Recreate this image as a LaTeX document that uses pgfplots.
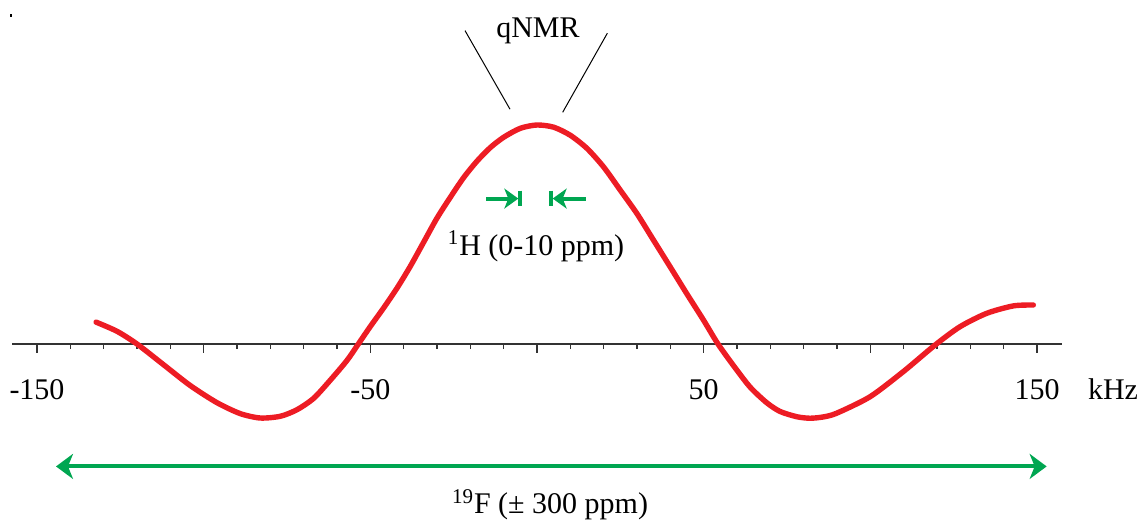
\documentclass[border=0pt]{standalone}
\usepackage{fontspec}
\setmainfont{Liberation Serif}
\usepackage{pgfplots}
\pgfplotsset{compat=1.18}
\usetikzlibrary{arrows.meta}

\definecolor{sigred}{HTML}{ED1C24}
\definecolor{bandgreen}{HTML}{00A651}
\definecolor{axisgray}{HTML}{333333}

% excitation profile of the pulse: offset (kHz) vs. normalised response
\pgfplotstableread{
x       y
-132.3  0.100
-126.0  0.058
-120.0  0.000
-112.0 -0.095
-104.0 -0.190
-96.0  -0.268
-89.0  -0.318
-83.0  -0.338
-77.0  -0.330
-72.0  -0.300
-67.0  -0.248
-62.0  -0.165
-57.0  -0.075
-53.6   0.000
-50.0   0.080
-46.0   0.165
-42.0   0.255
-38.0   0.355
-34.0   0.465
-30.0   0.575
-26.0   0.670
-22.0   0.760
-18.0   0.835
-14.0   0.897
-10.0   0.944
-5.0    0.985
0.0     1.000
5.0     0.990
10.0    0.953
15.0    0.893
20.0    0.808
25.0    0.702
30.0    0.595
35.0    0.473
40.0    0.351
45.0    0.228
50.0    0.108
54.3    0.000
59.4   -0.108
64.0   -0.198
68.9   -0.268
72.9   -0.308
77.9   -0.332
81.9   -0.339
85.9   -0.333
89.9   -0.316
99.9   -0.241
109.9  -0.126
119.4  -0.005
126.9   0.079
134.9   0.140
142.9   0.174
148.9   0.178
}\profile

\begin{document}
\begin{tikzpicture}[font=\fontsize{15bp}{18bp}\selectfont]
\begin{axis}[
  scale only axis,
  width=525bp, height=261bp,
  xmin=-157.5, xmax=157.5,
  ymin=-0.8128, ymax=1.5708,
  axis x line=middle,
  axis y line=none,
  axis line style={axisgray, line width=1bp, -},
  xtick={-150,-100,...,150},
  xticklabels={-150,,-50,,50,,150},
  minor x tick num=4,
  tick align=outside,
  major tick length=4.5bp,
  minor tick length=2.6bp,
  every tick/.style={axisgray, line width=0.75bp},
  xticklabel style={font=\fontsize{15bp}{18bp}\selectfont, anchor=base, yshift=-23bp},
  /pgf/number format/assume math mode=true,
  clip=false,
]
  \addplot[sigred, line width=2.7bp, line cap=round, line join=round, smooth, tension=0.45]
    table[x=x, y=y] {\profile};

  % unit label
  \node[anchor=base] at (axis cs:172.8,-0.2557) {kHz};

  % qNMR window
  \draw[black, line width=0.5bp] (axis cs:-21.6,1.431) -- (axis cs:-8.1,1.072);
  \draw[black, line width=0.5bp] (axis cs:21.1,1.419) -- (axis cs:7.7,1.058);
  \node[anchor=base] at (axis cs:0.3,1.400) {qNMR};

  % 1H window
  \draw[bandgreen, line width=2bp, -{Stealth[length=7bp,width=10bp,inset=2bp]}]
    (axis cs:-15.2,0.664) -- (axis cs:-5.6,0.664);
  \draw[bandgreen, line width=2bp] (axis cs:-5.1,0.700) -- (axis cs:-5.1,0.628);
  \draw[bandgreen, line width=2bp, -{Stealth[length=7bp,width=10bp,inset=2bp]}]
    (axis cs:14.6,0.664) -- (axis cs:4.7,0.664);
  \draw[bandgreen, line width=2bp] (axis cs:4.2,0.700) -- (axis cs:4.2,0.628);
  \node[anchor=base] at (axis cs:-0.3,0.406) {\textsuperscript{1}H (0-10 ppm)};

  % 19F range
  \draw[bandgreen, line width=2bp,
        {Stealth[length=8.5bp,width=12.5bp,inset=2.5bp]}-{Stealth[length=8.5bp,width=12.5bp,inset=2.5bp]}]
    (axis cs:-144.3,-0.559) -- (axis cs:152.9,-0.559);
  \node[anchor=base] at (axis cs:3.9,-0.776) {\textsuperscript{19}F (\textpm{} 300 ppm)};

  % stray mark in the corner
  \fill[black] (axis cs:-158.0,1.495) rectangle (axis cs:-157.5,1.508);

  \coordinate (bl) at (axis cs:-161.1,-0.8128);
  \coordinate (tr) at (axis cs:182.4,1.5708);
\end{axis}
\pgfresetboundingbox
\useasboundingbox (bl) rectangle (tr);
\end{tikzpicture}
\end{document}
